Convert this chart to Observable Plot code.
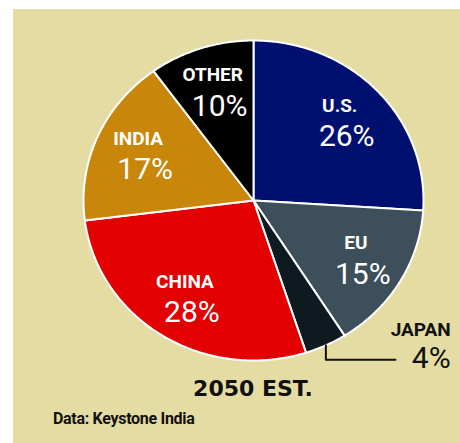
<!DOCTYPE html>
<html>
<head>
<meta charset="utf-8">
<script src="https://cdn.jsdelivr.net/npm/d3@7"></script>
<script src="https://cdn.jsdelivr.net/npm/@observablehq/plot@0.6"></script>
<style>
  html, body { margin: 0; padding: 0; background: #ffffff; }
  #panel { position: absolute; left: 13px; top: 9px; width: 447px; height: 434px; background: #e5dca4; overflow: hidden; }
  #chart { position: absolute; left: 0; top: 0; }
  #title { position: absolute; left: 0; width: 480px; top: 369px; text-align: center; font: bold 22px/22px "DejaVu Sans", sans-serif; color: #111; }
  #source { position: absolute; left: 40px; top: 402px; font: bold 16px/16px Roboto, sans-serif; color: #111; letter-spacing: -0.3px; }
</style>
</head>
<body>
<div id="panel">
  <div id="chart"></div>
  <div id="title">2050 EST.</div>
  <div id="source">Data: Keystone India</div>
</div>
<script>
// ---- data ----
const names  = ["U.S.", "EU", "JAPAN", "CHINA", "INDIA", "OTHER"];
const shares = [26, 15, 4, 28, 17, 10];
const colors = ["#001070", "#3c4f5a", "#0e1a20", "#e30000", "#c8870a", "#000000"];
const outsideLabel = "JAPAN";

// ---- derived geometry (from data) ----
const arcs = d3.pie().sort(null).value(d => d)(shares);
const pt = (a, r) => ({x: r * Math.sin(a), y: r * Math.cos(a)});

const polys = arcs.flatMap((s, i) => {
  const pts = [{name: names[i], ...pt(0, 0)}];
  const n = Math.max(4, Math.ceil((s.endAngle - s.startAngle) / 0.01));
  for (let k = 0; k <= n; k++) {
    const a = s.startAngle + (s.endAngle - s.startAngle) * k / n;
    pts.push({name: names[i], ...pt(a, 1)});
  }
  return pts;
});

const labels = arcs.map((s, i) => {
  const mid = (s.startAngle + s.endAngle) / 2;
  return {name: names[i], share: shares[i], mid, ...pt(mid, 0.72)};
});
const inside = labels.filter(d => d.name !== outsideLabel);
const outside = labels.filter(d => d.name === outsideLabel);

// leader line for the outside label
const o = outside[0];
const start = pt(o.mid, 1.0);
const leader = [
  {x: start.x, y: start.y},
  {x: start.x, y: -0.995},
  {x: 0.835, y: -0.995}
];
const outText = [
  {x: 1.16, y: -0.81, t: o.name, big: false},
  {x: 1.16, y: -0.9875, t: o.share + "%", big: true}
];

const chart = Plot.plot({
  width: 447,
  height: 362,
  marginLeft: 70,
  marginRight: 37,
  marginTop: 31,
  marginBottom: 11,
  x: {domain: [-1, 1], axis: null},
  y: {domain: [-1, 1], axis: null},
  color: {domain: names, range: colors},
  style: {background: "transparent", overflow: "visible", fontFamily: "Roboto, sans-serif"},
  marks: [
    Plot.line(polys, {x: "x", y: "y", z: "name", fill: "name", stroke: "white",
      strokeWidth: 2, curve: "linear-closed", strokeLinejoin: "round"}),
    Plot.text(inside, {x: "x", y: "y", text: "name", dy: -16, dx: -3,
      fill: "white", fontWeight: "bold", fontSize: 19}),
    Plot.text(inside, {x: "x", y: "y", text: d => d.share + "%", dy: 15, dx: 4,
      fill: "white", fontSize: 30}),
    Plot.line(leader, {x: "x", y: "y", stroke: "#111", strokeWidth: 2}),
    Plot.text(outText.filter(d => !d.big), {x: "x", y: "y", text: "t", textAnchor: "end",
      fill: "#111", fontWeight: "bold", fontSize: 19}),
    Plot.text(outText.filter(d => d.big), {x: "x", y: "y", text: "t", textAnchor: "end",
      fill: "#111", fontSize: 30})
  ]
});
document.getElementById("chart").appendChild(chart);
</script>
</body>
</html>
